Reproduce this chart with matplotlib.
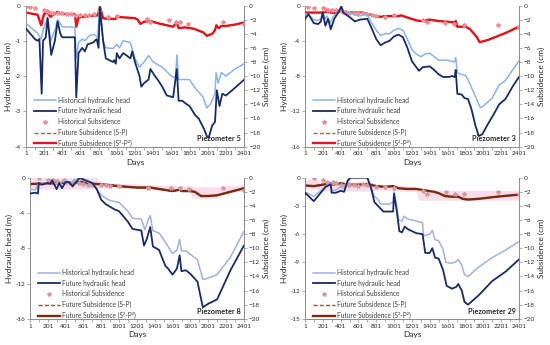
import matplotlib
matplotlib.use("Agg")
import matplotlib.pyplot as plt
from matplotlib.lines import Line2D

plt.rcParams['font.family'] = ['Lato', 'DejaVu Sans']

# ---------------- Piezometer 5 ----------------
p5_hist_x = [1, 100, 130, 170, 190, 240, 275, 320, 350, 400, 540, 555, 580, 620, 650, 700, 750, 790, 812, 850, 880, 960, 1000, 1030, 1070, 1150, 1200, 1250, 1300, 1350, 1400, 1500, 1600, 1645, 1662, 1680, 1800, 1850, 1950, 1990, 2030, 2080, 2092, 2115, 2150, 2200, 2300, 2401]
p5_hist_y = [-0.5, -0.72, -0.78, -0.95, -0.7, -0.35, -1.0, -0.7, -0.4, -0.6, -0.62, -1.5, -1.05, -0.95, -1.0, -0.85, -0.82, -0.9, -0.05, -1.0, -1.2, -1.22, -1.1, -1.2, -1.0, -1.05, -1.5, -1.75, -1.6, -1.42, -1.6, -1.75, -2.0, -2.05, -1.4, -2.1, -2.1, -2.3, -2.6, -2.9, -2.8, -2.5, -1.9, -2.2, -1.9, -2.0, -1.8, -1.65]
p5_fut_x = [1, 100, 130, 150, 175, 190, 220, 240, 280, 320, 350, 380, 400, 540, 555, 580, 620, 650, 680, 740, 780, 800, 815, 850, 880, 960, 970, 990, 1000, 1030, 1070, 1100, 1150, 1170, 1200, 1250, 1270, 1300, 1350, 1370, 1420, 1450, 1500, 1550, 1620, 1660, 1680, 1720, 1770, 1800, 1860, 1900, 1960, 1990, 2010, 2050, 2080, 2100, 2130, 2160, 2200, 2270, 2401]
p5_fut_y = [-0.65, -0.95, -1.0, -0.95, -2.5, -1.0, -0.9, -0.35, -1.4, -1.0, -0.45, -0.8, -0.9, -0.9, -2.6, -1.35, -1.2, -1.3, -1.1, -1.05, -0.95, -1.2, -0.05, -1.0, -1.5, -1.6, -1.55, -1.65, -1.35, -1.5, -1.35, -1.4, -1.5, -1.3, -1.6, -2.0, -2.3, -2.2, -2.1, -1.8, -2.0, -2.1, -2.3, -2.55, -2.6, -1.8, -2.7, -2.7, -2.8, -2.85, -3.1, -3.2, -3.5, -3.7, -3.75, -3.4, -3.3, -2.4, -2.85, -2.5, -2.55, -2.4, -2.1]
p5_sub_x = [1, 130, 170, 200, 240, 270, 350, 400, 540, 555, 580, 700, 790, 815, 850, 900, 990, 1000, 1100, 1200, 1230, 1260, 1300, 1370, 1450, 1550, 1620, 1660, 1680, 1750, 1850, 1950, 1990, 2050, 2080, 2095, 2120, 2150, 2200, 2300, 2401]
p5_sub_y = [-1.0, -1.3, -2.8, -1.2, -1.0, -1.6, -0.9, -1.2, -1.2, -3.0, -1.7, -1.5, -1.4, -0.2, -1.8, -1.9, -1.9, -1.6, -1.7, -1.8, -2.0, -2.6, -2.3, -2.2, -2.5, -2.8, -3.0, -2.4, -3.2, -3.1, -3.3, -3.8, -4.3, -4.0, -3.5, -2.8, -3.2, -2.9, -2.9, -2.7, -2.4]
p5_obs_x = [1, 50, 100, 200, 230, 260, 300, 350, 400, 450, 500, 540, 600, 650, 700, 750, 810, 900, 1000, 1330, 1370, 1570, 1650, 1690, 1780, 2170, 2401]
p5_obs_y = [-0.1, -0.2, -0.3, -0.7, -0.8, -0.9, -1.0, -1.0, -1.1, -1.2, -1.2, -1.3, -1.4, -1.4, -1.3, -1.2, -0.8, -1.6, -1.5, -1.9, -2.3, -2.0, -2.3, -2.3, -2.6, -2.3, -2.6]

# ---------------- Piezometer 3 ----------------
p3_hist_x = [1, 40, 100, 150, 180, 200, 230, 250, 280, 320, 370, 400, 430, 500, 550, 600, 700, 750, 800, 850, 900, 950, 1000, 1050, 1100, 1150, 1200, 1250, 1300, 1350, 1400, 1450, 1500, 1600, 1680, 1692, 1710, 1750, 1800, 1830, 1900, 1950, 1970, 2000, 2100, 2180, 2250, 2330, 2401]
p3_hist_y = [-1.2, -1.0, -1.6, -1.7, -1.5, -0.8, -1.5, -1.2, -2.0, -1.2, -0.8, -0.2, -0.6, -0.8, -1.0, -1.2, -1.0, -2.0, -2.8, -3.4, -3.2, -3.2, -2.8, -2.6, -2.8, -3.8, -5.0, -5.5, -5.8, -5.5, -5.4, -5.8, -6.2, -6.2, -6.4, -5.9, -7.6, -7.8, -7.9, -8.4, -10.0, -11.2, -11.6, -11.4, -10.5, -9.0, -8.5, -7.3, -6.3]
p3_fut_x = [1, 40, 100, 150, 180, 200, 230, 260, 290, 330, 380, 410, 430, 500, 560, 620, 700, 750, 800, 850, 900, 950, 1000, 1050, 1100, 1150, 1200, 1250, 1280, 1320, 1400, 1450, 1500, 1550, 1620, 1650, 1680, 1692, 1710, 1760, 1790, 1830, 1870, 1910, 1950, 1990, 2050, 2120, 2180, 2250, 2330, 2401]
p3_fut_y = [-1.5, -1.0, -2.0, -2.1, -1.8, -0.8, -2.3, -1.5, -2.7, -1.5, -0.7, -0.1, -0.8, -1.3, -1.8, -1.6, -1.5, -2.6, -3.8, -4.5, -4.2, -4.0, -3.5, -3.3, -3.6, -4.8, -6.3, -7.0, -7.4, -7.0, -6.9, -7.3, -7.8, -8.1, -8.1, -8.0, -8.1, -7.3, -10.0, -10.1, -10.5, -10.6, -11.8, -13.5, -14.8, -14.6, -13.5, -12.3, -11.2, -10.6, -9.2, -8.1]
p3_sub_x = [1, 200, 250, 350, 400, 500, 650, 700, 800, 850, 900, 1050, 1080, 1150, 1250, 1300, 1400, 1500, 1600, 1680, 1692, 1710, 1800, 1850, 1930, 1960, 2050, 2150, 2250, 2401]
p3_sub_y = [-1.0, -1.0, -0.9, -1.1, -0.8, -1.0, -1.0, -1.2, -1.5, -1.6, -1.5, -1.5, -1.4, -1.7, -2.1, -2.2, -2.0, -2.2, -2.3, -2.4, -2.2, -3.0, -3.0, -3.3, -4.5, -5.2, -4.9, -4.4, -3.9, -3.0]
p3_obs_x = [40, 100, 200, 230, 260, 300, 350, 400, 430, 460, 500, 550, 600, 650, 700, 750, 800, 900, 1000, 1330, 1370, 1570, 1670, 1780, 2170, 2401]
p3_obs_y = [-0.2, -0.4, -0.4, -0.5, -0.6, -0.6, -0.7, -0.6, -0.9, -0.9, -1.0, -1.0, -1.0, -1.1, -1.2, -1.3, -1.5, -1.6, -1.4, -2.0, -2.4, -2.5, -2.6, -2.7, -2.8, -3.0]

# ---------------- Piezometer 8 ----------------
p8_hist_x = [1, 60, 100, 200, 250, 300, 350, 400, 450, 500, 560, 600, 650, 700, 750, 800, 850, 900, 1000, 1050, 1100, 1150, 1250, 1290, 1320, 1350, 1380, 1450, 1500, 1550, 1600, 1650, 1680, 1700, 1750, 1800, 1880, 1940, 1970, 2100, 2250, 2401]
p8_hist_y = [-1.3, -1.4, -0.6, -0.6, -0.5, -0.7, -0.5, -0.3, -0.6, -0.2, -0.2, -0.3, -0.5, -0.8, -1.3, -2.0, -2.3, -2.6, -2.8, -3.3, -3.8, -4.6, -4.7, -5.9, -5.0, -4.3, -6.0, -6.3, -7.0, -7.8, -8.6, -8.2, -7.0, -8.3, -8.3, -8.7, -9.3, -11.5, -11.5, -11.0, -9.0, -6.1]
p8_fut_x = [1, 60, 90, 100, 130, 200, 230, 250, 300, 330, 360, 400, 440, 480, 500, 560, 600, 650, 700, 750, 800, 850, 900, 950, 1000, 1050, 1100, 1150, 1250, 1280, 1310, 1350, 1380, 1450, 1480, 1520, 1550, 1600, 1650, 1680, 1700, 1750, 1800, 1880, 1940, 2000, 2100, 2250, 2401]
p8_fut_y = [-1.8, -1.7, -1.8, -0.6, -0.8, -0.6, -0.7, -0.3, -1.3, -0.6, -1.2, -0.5, -0.5, -1.0, -0.7, 0.0, -0.2, -0.4, -0.6, -1.3, -2.5, -3.0, -3.3, -3.6, -3.8, -4.4, -5.0, -5.8, -6.0, -7.7, -7.0, -5.6, -7.8, -8.2, -9.0, -10.0, -10.3, -11.0, -10.3, -8.8, -10.6, -10.5, -10.9, -11.8, -14.7, -14.3, -13.8, -10.5, -7.7]
p8_sub_x = [1, 200, 300, 400, 500, 560, 650, 750, 850, 1000, 1100, 1200, 1350, 1400, 1500, 1600, 1680, 1700, 1800, 1850, 1920, 2000, 2100, 2250, 2401]
p8_sub_y = [-0.9, -0.8, -0.8, -0.7, -0.8, -0.6, -0.8, -0.9, -1.0, -1.2, -1.3, -1.4, -1.4, -1.5, -1.7, -1.9, -1.7, -1.9, -1.9, -2.0, -2.6, -2.6, -2.5, -2.0, -1.5]
p8_obs_x = [100, 200, 230, 260, 300, 330, 380, 400, 450, 500, 550, 600, 650, 700, 800, 850, 900, 1000, 1330, 1580, 1680, 1780, 2170, 2401]
p8_obs_y = [-0.1, -0.3, -0.5, -0.4, -0.5, -0.8, -0.4, -0.6, -0.7, -0.6, -0.7, -0.9, -1.0, -1.0, -1.0, -1.1, -1.2, -1.2, -1.4, -1.4, -1.5, -1.6, -1.5, -1.7]
p8_band_x = [1, 750, 800, 1800, 1820, 2100, 2120, 2401]
p8_band_hi = [0.0, 0.0, -0.7, -1.2, -1.3, -1.3, -1.2, -1.0]
p8_band_lo = [-1.6, -1.6, -1.3, -2.0, -2.9, -2.9, -2.3, -1.9]

# ---------------- Piezometer 29 ----------------
p29_hist_x = [1, 100, 200, 250, 290, 300, 350, 400, 450, 500, 520, 700, 740, 780, 820, 850, 950, 990, 1000, 1030, 1050, 1090, 1110, 1150, 1250, 1320, 1330, 1400, 1430, 1460, 1500, 1550, 1580, 1650, 1700, 1720, 1760, 1790, 1830, 1950, 2100, 2250, 2401]
p29_hist_y = [-1.5, -2.0, -1.2, -0.8, -0.6, -1.4, -1.3, -1.0, -1.2, -0.2, 0.0, 0.0, -1.0, -2.0, -2.3, -2.8, -2.8, -2.6, -1.5, -3.0, -4.5, -4.6, -4.1, -4.4, -4.6, -4.8, -6.2, -6.0, -5.6, -6.6, -6.7, -7.6, -9.0, -9.1, -8.9, -8.7, -9.3, -10.3, -10.5, -9.5, -8.5, -7.7, -6.8]
p29_fut_x = [1, 100, 230, 290, 300, 350, 400, 440, 480, 510, 700, 740, 780, 820, 880, 990, 1000, 1030, 1060, 1090, 1120, 1160, 1250, 1320, 1350, 1400, 1430, 1460, 1500, 1550, 1590, 1650, 1700, 1720, 1760, 1790, 1830, 1950, 2100, 2250, 2401]
p29_fut_y = [-1.6, -2.5, -1.0, -0.7, -1.6, -1.6, -1.4, -1.5, -0.3, 0.0, 0.0, -1.0, -2.6, -3.0, -3.6, -3.6, -1.7, -3.5, -5.7, -5.8, -5.2, -5.5, -5.9, -6.0, -8.0, -8.0, -7.5, -8.5, -8.6, -9.8, -11.5, -11.8, -11.6, -11.3, -12.0, -13.2, -13.5, -12.5, -11.0, -10.0, -8.7]
p29_sub_x = [1, 100, 200, 280, 300, 400, 500, 600, 700, 800, 900, 990, 1050, 1150, 1250, 1350, 1400, 1450, 1500, 1570, 1650, 1720, 1770, 1830, 1950, 2150, 2401]
p29_sub_y = [-1.1, -1.2, -1.0, -0.8, -1.0, -0.8, -1.0, -1.0, -0.9, -1.2, -1.3, -1.2, -1.5, -1.6, -1.6, -1.8, -1.9, -2.0, -2.2, -2.6, -2.7, -2.7, -3.0, -3.1, -3.0, -2.7, -2.4]
p29_obs_x = [100, 200, 250, 300, 320, 350, 400, 450, 500, 550, 600, 650, 700, 800, 900, 1000, 1330, 1370, 1580, 1680, 1780, 2170, 2401]
p29_obs_y = [-0.1, -0.3, -0.6, -0.8, -0.6, -0.8, -1.1, -1.0, -1.1, -1.1, -1.2, -0.9, -1.1, -1.3, -1.3, -1.4, -1.9, -2.3, -2.1, -2.3, -2.3, -2.0, -2.3]
p29_band_x = [1, 150, 160, 750, 800, 1250, 1280, 2401]
p29_band_hi = [-0.2, -0.2, -0.6, -0.6, -1.0, -1.2, -1.8, -1.8]
p29_band_lo = [-1.6, -1.6, -1.9, -1.9, -1.7, -2.0, -3.2, -3.2]

day_ticks = list(range(1, 2402, 200))
day_minor = list(range(1, 2402, 100))
sub_ticks = list(range(0, -21, -2))

panels = [
    dict(rect=[0.047, 0.575, 0.397, 0.409], hx=p5_hist_x, hy=p5_hist_y, fx=p5_fut_x, fy=p5_fut_y,
         sx=p5_sub_x, sy=p5_sub_y, ox=p5_obs_x, oy=p5_obs_y, ylim=(-4, 0), yt=[0, -1, -2, -3, -4],
         name="Piezometer 5", hc="#8DB3E2", sc="#E3141B", dc="#E04A4A", oc="#F08C94", band=None),
    dict(rect=[0.5545, 0.575, 0.389, 0.409], hx=p3_hist_x, hy=p3_hist_y, fx=p3_fut_x, fy=p3_fut_y,
         sx=p3_sub_x, sy=p3_sub_y, ox=p3_obs_x, oy=p3_obs_y, ylim=(-16, 0), yt=[0, -4, -8, -12, -16],
         name="Piezometer 3", hc="#8DB3E2", sc="#E3141B", dc="#E04A4A", oc="#F08C94", band=None),
    dict(rect=[0.0545, 0.076, 0.389, 0.409], hx=p8_hist_x, hy=p8_hist_y, fx=p8_fut_x, fy=p8_fut_y,
         sx=p8_sub_x, sy=p8_sub_y, ox=p8_obs_x, oy=p8_obs_y, ylim=(-16, 0), yt=[0, -4, -8, -12, -16],
         name="Piezometer 8", hc="#A3B1DC", sc="#7A2A0A", dc="#8C5A3C", oc="#D49AA0",
         band=(p8_band_x, p8_band_hi, p8_band_lo)),
    dict(rect=[0.5545, 0.076, 0.389, 0.409], hx=p29_hist_x, hy=p29_hist_y, fx=p29_fut_x, fy=p29_fut_y,
         sx=p29_sub_x, sy=p29_sub_y, ox=p29_obs_x, oy=p29_obs_y, ylim=(-15, 0), yt=[0, -3, -6, -9, -12, -15],
         name="Piezometer 29", hc="#A3B1DC", sc="#7A2A0A", dc="#8C5A3C", oc="#D49AA0",
         band=(p29_band_x, p29_band_hi, p29_band_lo)),
]

fig = plt.figure(figsize=(5.5, 3.45), dpi=100)
tick_fs = 4.6
lab_fs = 6.0
grey = "#8C8C8C"

for p in panels:
    ax = fig.add_axes(p["rect"])
    ax2 = ax.twinx()
    ax.set_zorder(ax2.get_zorder() + 1)
    ax.patch.set_visible(False)

    if p["band"] is not None:
        bx, bh, bl = p["band"]
        ax2.fill_between(bx, bh, bl, color="#FADCEB", lw=0, zorder=0)

    ax2.plot(p["sx"], p["sy"], color=p["dc"], lw=1.0, ls=(0, (3, 1.5)), zorder=2)
    ax2.plot(p["sx"], p["sy"], color=p["sc"], lw=1.7, zorder=3)
    ax2.plot(p["ox"], p["oy"], ls="none", marker="*", ms=3.0, color=p["oc"], mec=p["oc"], zorder=4)

    ax.plot(p["hx"], p["hy"], color=p["hc"], lw=1.1, zorder=3)
    ax.plot(p["fx"], p["fy"], color="#172C62", lw=1.3, zorder=4)

    ax.set_xlim(1, 2401)
    ax.set_ylim(*p["ylim"])
    ax.set_yticks(p["yt"])
    ax.set_yticklabels([str(v) for v in p["yt"]])
    ax.set_xticks(day_ticks)
    ax.set_xticks(day_minor, minor=True)
    ax2.set_ylim(-20, 0)
    ax2.set_yticks(sub_ticks)

    for a in (ax, ax2):
        a.spines["top"].set_visible(False)
        for s in ("left", "right", "bottom"):
            a.spines[s].set_color(grey)
            a.spines[s].set_linewidth(0.6)
        a.tick_params(labelsize=tick_fs, length=2, width=0.5, color=grey, pad=1.5, labelcolor="#262626")
        a.tick_params(which="minor", length=2, width=0.5, color=grey)
    ax.set_xlabel("Days", fontsize=lab_fs, labelpad=2, color="#262626")
    ax.set_ylabel("Hydraulic head (m)", fontsize=lab_fs, labelpad=2, color="#262626")
    ax2.set_ylabel("Subsidence (cm)", fontsize=lab_fs, labelpad=2, color="#262626")

    ax.text(0.985, 0.03, p["name"], transform=ax.transAxes, ha="right", va="bottom",
            fontsize=5.3, fontweight="bold", color="#262626", zorder=6)

    handles = [
        Line2D([], [], color=p["hc"], lw=1.1),
        Line2D([], [], color="#172C62", lw=1.3),
        Line2D([], [], ls="none", marker="*", ms=3.0, color=p["oc"]),
        Line2D([], [], color=p["dc"], lw=1.0, ls=(0, (3, 1.5))),
        Line2D([], [], color=p["sc"], lw=1.7),
    ]
    labels = ["Historical hydraulic head", "Future hydraulic head", "Historical Subsidence",
              "Future Subsidence (S-P)", "Future Subsidence (S²-P²)"]
    leg = ax.legend(handles, labels, loc="lower left", bbox_to_anchor=(0.02, -0.03), frameon=False,
                    fontsize=4.8, handlelength=3.2, handletextpad=0.4, labelspacing=0.55,
                    borderaxespad=0.2)
    for t in leg.get_texts():
        t.set_color("#404040")

fig.savefig("out.png", dpi=100)
